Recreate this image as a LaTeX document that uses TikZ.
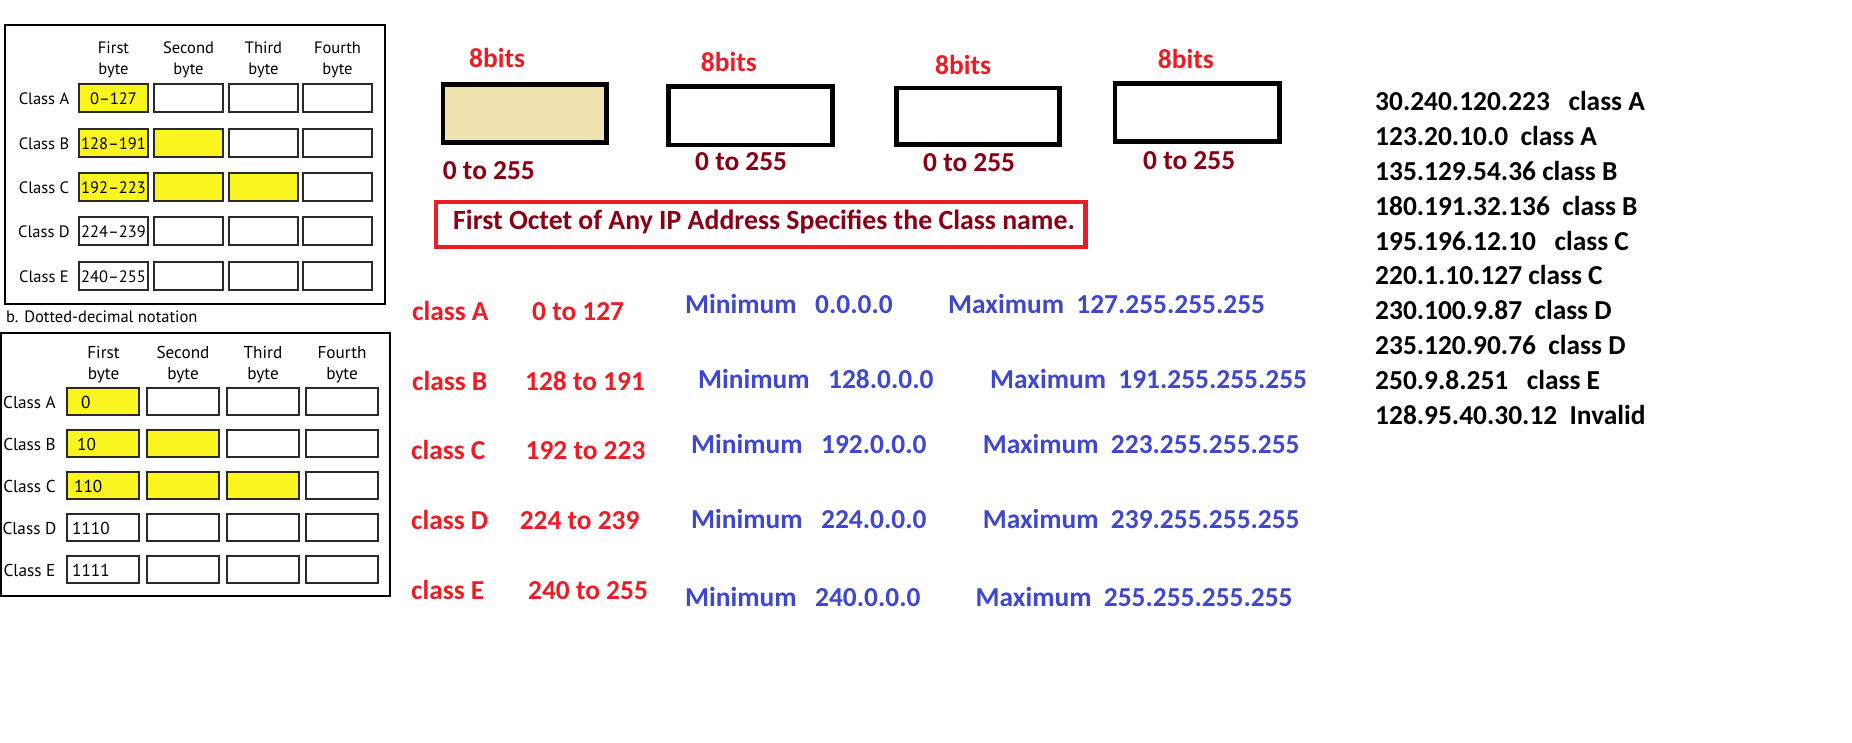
\documentclass[tikz,border=0pt]{standalone}
\usepackage{fontspec}
\newfontfamily\calib{Carlito}
\newfontfamily\myr{PT Sans}
\definecolor{pred}{HTML}{ED1C24}
\definecolor{pmaroon}{HTML}{880015}
\definecolor{pblue}{HTML}{3F48CC}
\definecolor{ptan}{HTML}{EFE4B0}
\definecolor{cellyel}{HTML}{FAF51E}
\definecolor{cellbd}{HTML}{2A2A2A}
\tikzset{
  bigtxt/.style={font=\calib\bfseries\fontsize{27.4}{32}\selectfont, inner sep=0pt, anchor=base west},
  redtxt/.style={bigtxt, text=pred},
  martxt/.style={bigtxt, text=pmaroon},
  bluetxt/.style={bigtxt, text=pblue},
  blktxt/.style={bigtxt, text=black},
  tblA/.style={font=\myr\fontsize{16.5}{21}\selectfont, inner sep=0pt, align=center},
  tblB/.style={font=\myr\fontsize{17.2}{21}\selectfont, inner sep=0pt, align=center},
  cellbox/.style={draw=cellbd, line width=1.4pt},
  frame/.style={draw=black, line width=1.8pt},
  octet/.style={draw=black, line width=4.7pt},
  notebox/.style={draw=pred, line width=4.3pt},
}
\begin{document}
\begin{tikzpicture}[x=1pt,y=-1pt]
\useasboundingbox (0,0) rectangle (1852,743);
\fill[white] (0,0) rectangle (1852,743);

% ---------- table 1 (dotted-decimal ranges) ----------
\draw[frame] (5,25) rectangle (385,304);
\node[tblA] (h1a) at (113.5,59.5) {First\\byte};
\node[tblA] (h1b) at (188.5,59.5) {Second\\byte};
\node[tblA] (h1c) at (263.5,59.5) {Third\\byte};
\node[tblA] (h1d) at (337.5,59.5) {Fourth\\byte};
\foreach \r/\y/\n/\t in {A/84/1/0–127, B/129/2/128–191, C/173/3/192–223, D/217/0/224–239, E/262/0/240–255} {
  \node[tblA] (t1l\r) at (44,\y+14.5) {Class \r};
  \foreach \x [count=\j] in {79,154,229,303} {
    \ifnum\j>\n \def\fc{white}\else\def\fc{cellyel}\fi
    \path[cellbox, fill=\fc] (\x,\y) rectangle ++(69,28);
  }
  \node[tblA] (t1v\r) at (113.5,\y+14.5) {\t};
}
\node[tblA, anchor=west] (note) at (6,317) {b. Dotted-decimal notation};

% ---------- table 2 (binary prefixes) ----------
\draw[frame] (1,333) rectangle (390,596);
\node[tblB] (h2a) at (103.5,365) {First\\byte};
\node[tblB] (h2b) at (183,365) {Second\\byte};
\node[tblB] (h2c) at (263,365) {Third\\byte};
\node[tblB] (h2d) at (342,365) {Fourth\\byte};
\foreach \r/\y/\n/\t/\tx in {A/388/1/0/81, B/430/2/10/77, C/472/3/110/74, D/514/0/1110/72, E/556/0/1111/72} {
  \node[tblB] (t2l\r) at (29.5,\y+14) {Class \r};
  \foreach \x [count=\j] in {67,147,227,306} {
    \ifnum\j>\n \def\fc{white}\else\def\fc{cellyel}\fi
    \path[cellbox, fill=\fc] (\x,\y) rectangle ++(72,27);
  }
  \node[tblB, anchor=west] (t2v\r) at (\tx,\y+14) {\t};
}

% ---------- four octets ----------
\path[octet, fill=ptan] (443.05,84.65) rectangle (606.65,142.35);
\path[octet] (668.35,86.35) rectangle (832.65,144.95);
\path[octet] (896.35,88.05) rectangle (1059.65,144.65);
\path[octet] (1115.05,83.35) rectangle (1279.65,141.35);
\node[redtxt] (b1) at (469,67.7) {8bits};
\node[redtxt] (b2) at (700.7,71.7) {8bits};
\node[redtxt] (b3) at (935,75) {8bits};
\node[redtxt] (b4) at (1157.7,68.3) {8bits};
\node[martxt] (r1) at (442.7,179.3) {0 to 255};
\node[martxt] (r2) at (695,171) {0 to 255};
\node[martxt] (r3) at (923,172) {0 to 255};
\node[martxt] (r4) at (1143,170) {0 to 255};

\path[notebox] (436.15,202.15) rectangle (1085.55,246.85);
\node[martxt, font=\calib\bfseries\fontsize{27.8}{32}\selectfont] (rule) at (453,230) {First Octet of Any IP Address Specifies the Class name.};

% ---------- class rows ----------
\node[redtxt] (cA) at (412,320) {class A};
\node[redtxt] (rA) at (532,320) {0 to 127};
\node[bluetxt] (mA) at (685,313) {Minimum\ \ \ 0.0.0.0};
\node[bluetxt] (xA) at (948,313) {Maximum\ \ 127.255.255.255};

\node[redtxt] (cB) at (412,390) {class B};
\node[redtxt] (rB) at (525,390) {128 to 191};
\node[bluetxt] (mB) at (698,388) {Minimum\ \ \ 128.0.0.0};
\node[bluetxt] (xB) at (990,388) {Maximum\ \ 191.255.255.255};

\node[redtxt] (cC) at (411,459) {class C};
\node[redtxt] (rC) at (525.5,459) {192 to 223};
\node[bluetxt] (mC) at (691,453) {Minimum\ \ \ 192.0.0.0};
\node[bluetxt] (xC) at (982.6,453) {Maximum\ \ 223.255.255.255};

\node[redtxt] (cD) at (411,529) {class D};
\node[redtxt] (rD) at (519.6,529) {224 to 239};
\node[bluetxt] (mD) at (691,528) {Minimum\ \ \ 224.0.0.0};
\node[bluetxt] (xD) at (982.6,528) {Maximum\ \ 239.255.255.255};

\node[redtxt] (cE) at (411,599) {class E};
\node[redtxt] (rE) at (528,599) {240 to 255};
\node[bluetxt] (mE) at (685,606) {Minimum\ \ \ 240.0.0.0};
\node[bluetxt] (xE) at (975.5,606) {Maximum\ \ 255.255.255.255};

% ---------- examples ----------
\foreach \t [count=\i from 0] in {
  30.240.120.223\ \ \ class A,
  123.20.10.0\ \ class A,
  135.129.54.36 class B,
  180.191.32.136\ \ class B,
  195.196.12.10\ \ \ class C,
  220.1.10.127 class C,
  230.100.9.87\ \ class D,
  235.120.90.76\ \ class D,
  250.9.8.251\ \ \ class E,
  128.95.40.30.12\ \ Invalid} {
  \node[blktxt] (ex\i) at (1375,111+34.8*\i) {\t};
}
\end{tikzpicture}
\end{document}
